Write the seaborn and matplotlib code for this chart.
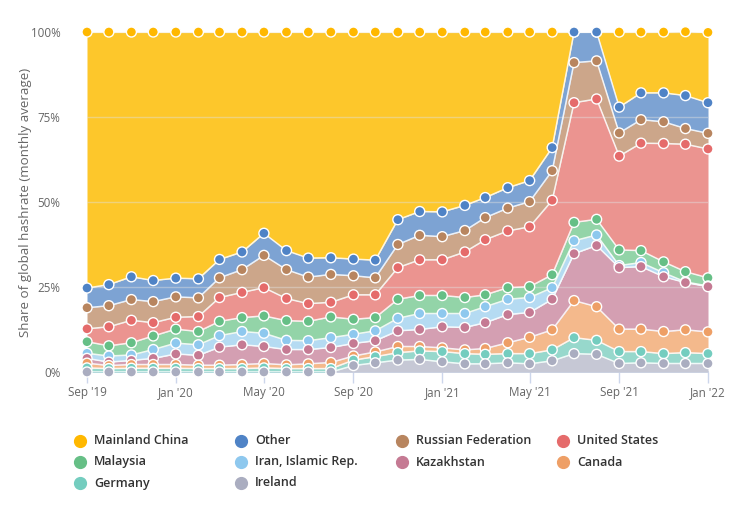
import numpy as np
import pandas as pd
import matplotlib
matplotlib.use("Agg")
import matplotlib.pyplot as plt
from matplotlib.lines import Line2D
import seaborn as sns

# --- data (share of global hashrate, %, monthly average) ---
months = ["2019-09", "2019-10", "2019-11", "2019-12",
          "2020-01", "2020-02", "2020-03", "2020-04", "2020-05", "2020-06",
          "2020-07", "2020-08", "2020-09", "2020-10", "2020-11", "2020-12",
          "2021-01", "2021-02", "2021-03", "2021-04", "2021-05", "2021-06",
          "2021-07", "2021-08", "2021-09", "2021-10", "2021-11", "2021-12",
          "2022-01"]
tick_months = ["2019-09", "2020-01", "2020-05", "2020-09",
               "2021-01", "2021-05", "2021-09", "2022-01"]
tick_labels = ["Sep '19", "Jan '20", "May '20", "Sep '20",
               "Jan '21", "May '21", "Sep '21", "Jan '22"]

china = [75.3, 74.3, 72.0, 73.1, 72.4, 72.6, 66.9, 64.7, 59.2, 64.3, 66.5, 66.4, 66.8, 67.1, 55.2,
         52.8, 52.9, 51.0, 48.7, 45.8, 43.7, 34.0, 0.0, 0.0, 22.1, 17.9, 17.9, 18.8, 20.7]
other = [5.8, 6.2, 6.7, 6.2, 5.5, 5.6, 5.4, 5.2, 6.5, 5.6, 5.6, 4.9, 4.9, 5.2, 7.3,
         7.0, 7.3, 7.4, 5.9, 6.0, 6.2, 6.8, 9.0, 8.5, 7.6, 7.9, 8.5, 9.7, 9.0]
russia = [6.2, 6.2, 6.1, 6.2, 6.0, 5.5, 5.8, 6.7, 9.5, 8.5, 7.8, 8.2, 5.6, 5.0, 6.8,
          7.2, 6.8, 6.3, 6.5, 6.7, 7.4, 8.7, 11.8, 11.2, 6.8, 6.9, 6.4, 4.6, 4.6]
us = [3.8, 5.6, 6.6, 3.9, 3.5, 4.4, 7.0, 7.4, 8.3, 6.5, 5.2, 4.3, 7.2, 6.7, 9.3,
      10.5, 10.5, 13.4, 16.2, 16.7, 17.6, 21.9, 35.2, 35.4, 27.6, 31.6, 34.8, 37.5, 37.9]
malaysia = [3.4, 3.0, 3.6, 4.0, 4.1, 3.9, 4.2, 4.1, 5.1, 5.8, 5.7, 6.1, 4.4, 3.9, 5.6,
            5.3, 5.3, 4.7, 3.5, 3.4, 3.2, 3.8, 5.4, 4.6, 4.6, 3.5, 3.2, 3.0, 2.4]
iran = [1.5, 1.8, 1.6, 2.6, 3.2, 3.1, 3.4, 3.9, 3.9, 2.7, 2.6, 2.9, 2.7, 2.9, 3.7,
        4.7, 3.9, 4.1, 4.7, 4.5, 4.4, 3.4, 3.8, 3.1, 0.6, 1.2, 1.2, 0.2, 0.2]
kazakhstan = [1.4, 1.0, 1.2, 1.8, 3.1, 2.9, 5.3, 5.8, 5.0, 4.5, 4.2, 4.4, 3.7, 3.3, 4.6,
              5.0, 6.2, 6.6, 7.6, 8.3, 7.3, 9.0, 13.8, 18.0, 18.1, 18.4, 16.1, 13.9, 13.3]
canada = [1.4, 0.9, 1.1, 1.1, 1.1, 1.0, 1.0, 1.2, 1.3, 1.1, 1.4, 1.8, 1.2, 1.4, 1.8,
          1.3, 1.1, 1.1, 1.7, 3.2, 4.8, 5.9, 10.9, 9.9, 6.6, 6.6, 6.5, 6.7, 6.4]
germany = [1.2, 1.0, 1.1, 1.1, 1.1, 1.0, 1.0, 1.0, 1.2, 1.0, 1.0, 1.0, 1.6, 1.8, 2.2,
           2.5, 3.0, 3.0, 2.8, 2.7, 3.0, 3.2, 4.7, 4.1, 3.5, 3.3, 2.9, 3.2, 2.9]
ireland = [0.0, 0.0, 0.0, 0.0, 0.0, 0.0, 0.0, 0.0, 0.0, 0.0, 0.0, 0.0, 1.9, 2.7, 3.5,
           3.7, 3.0, 2.4, 2.4, 2.7, 2.4, 3.3, 5.4, 5.2, 2.5, 2.7, 2.5, 2.5, 2.5]

# legend / drawing order (first = top of the stack)
names = ["Mainland China", "Other", "Russian Federation", "United States", "Malaysia",
         "Iran, Islamic Rep.", "Kazakhstan", "Canada", "Germany", "Ireland"]
series = [china, other, russia, us, malaysia, iran, kazakhstan, canada, germany, ireland]
marker_cols = ["#FFB800", "#4F83C6", "#B8855F", "#E56B6B", "#66BF86",
               "#8EC8EE", "#C57A93", "#EE9F66", "#74CDBF", "#AAADC0"]
fill_cols = ["#FDC72B", "#7DA3D3", "#CCA68A", "#EB9490", "#93D4A8",
             "#B5DBF2", "#D49FB2", "#F4B98C", "#97D8CC", "#C6C8D5"]

sns.set_theme(style="white")
plt.rcParams["font.family"] = ["Open Sans", "DejaVu Sans"]

dates = pd.to_datetime(months)
vals = np.array(series[::-1])          # bottom -> top
tops = np.cumsum(vals, axis=0)
bots = tops - vals

rows = []
for k, name in enumerate(names[::-1]):
    for d, t in zip(dates, tops[k]):
        rows.append({"month": d, "top": t, "country": name})
df = pd.DataFrame(rows)
# Highcharts draws the top series first, the bottom one last
df["order"] = df["country"].map({n: i for i, n in enumerate(names)})
df = df.sort_values(["order", "month"])

fig = plt.figure(figsize=(7.47, 5.09), dpi=100)
W, H = 747, 509
ax = fig.add_axes([87 / W, 1 - 372 / H, (708 - 87) / W, 340 / H])

# --- stacked areas ---
for k, name in enumerate(names[::-1]):
    col = fill_cols[::-1][k]
    ax.fill_between(dates, bots[k], tops[k], color=col, lw=0, zorder=1)

# gridlines faintly over the areas
for g in [25, 50, 75, 100]:
    ax.axhline(g, color="#e0e0e0", lw=1, alpha=0.45, zorder=2)

# white boundary lines
sns.lineplot(data=df, x="month", y="top", hue="country", units="country", estimator=None,
             palette={n: "white" for n in names}, lw=1.1, alpha=0.85,
             legend=False, ax=ax, zorder=3, sort=True)

# markers
sns.scatterplot(data=df, x="month", y="top", hue="country",
                palette=dict(zip(names, marker_cols)), s=52, edgecolor="white",
                linewidth=1.0, legend=False, ax=ax, zorder=4, clip_on=False)

# --- axes styling ---
ax.set_xlim(dates[0], dates[-1])
ax.set_ylim(0, 100)
ax.set_yticks([0, 25, 50, 75, 100])
ax.set_yticklabels([f"{v}%" for v in [0, 25, 50, 75, 100]])
ax.set_xticks(pd.to_datetime(tick_months))
ax.set_xticklabels(tick_labels)
ax.tick_params(axis="y", length=0, pad=19, labelsize=8.4, labelcolor="#666666")
ax.tick_params(axis="x", length=8, width=1, color="#ccd6eb", pad=2,
               labelsize=8.4, labelcolor="#666666", direction="out", bottom=True)
for s in ["top", "right", "left"]:
    ax.spines[s].set_visible(False)
ax.spines["bottom"].set_color("#ccd6eb")
ax.spines["bottom"].set_zorder(0)
ax.set_xlabel("")
ax.set_ylabel("Share of global hashrate (monthly average)", fontsize=9.6, color="#666666")
ax.yaxis.set_label_coords((32 - 87) / (708 - 87), 0.5)
ax.set_facecolor("white")

# --- legend, laid out row by row like the original ---
for i, (name, col) in enumerate(zip(names, marker_cols)):
    r, c = divmod(i, 4)
    px = 80 + 161 * c
    py = 441 + 21 * r
    fig.add_artist(Line2D([px / W], [1 - py / H], marker="o", markersize=8.5,
                          color=col, markeredgecolor=col, lw=0,
                          transform=fig.transFigure))
    fig.text((px + 14) / W, 1 - py / H, name, ha="left", va="center",
             fontsize=9, fontweight="semibold", color="#333333")

fig.savefig("out.png", dpi=100)
